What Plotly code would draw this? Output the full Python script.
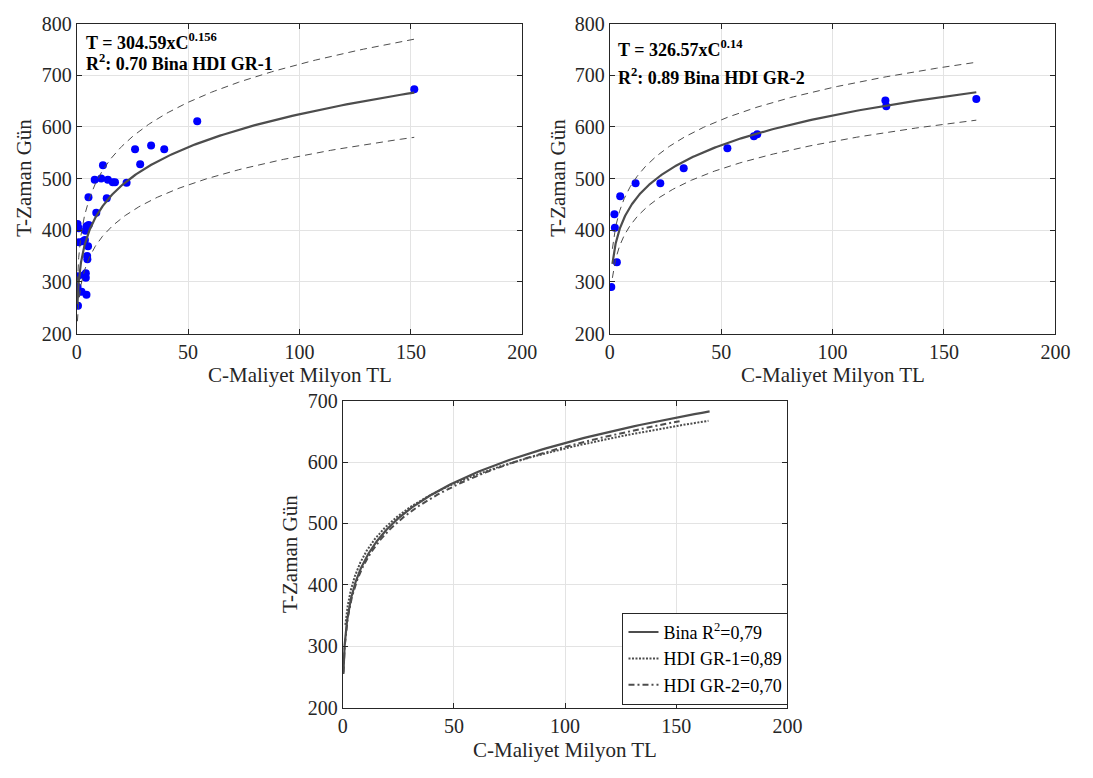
import numpy as np
import plotly.graph_objects as go

# ---------------- data ----------------
gr1_cost = [151.5, 54.1, 26.2, 33.4, 39.3, 28.5, 11.8, 8.1, 11.0, 14.0, 16.2, 17.2, 22.4,
            5.3, 13.5, 8.8, 0.4, 0.9, 4.4, 5.4, 4.0, 1.0, 2.9, 3.7, 5.1, 4.7, 4.8,
            0.4, 3.2, 4.1, 4.1, 0.4, 0.0, 2.2, 4.4, 0.6]
gr1_time = [673, 611, 557, 564, 557, 528, 526, 498, 500, 498, 493, 493, 492,
            464, 462, 434, 412, 404, 408, 410, 399, 377, 379, 381, 369, 350, 344,
            311, 313, 317, 308, 290, 277, 281, 275, 254]

gr2_cost = [164.5, 123.7, 124.1, 64.7, 66.2, 52.8, 33.2, 22.7, 11.6, 4.7, 2.1, 2.3, 3.2, 0.7]
gr2_time = [654, 651, 640, 582, 586, 559, 520, 491, 491, 466, 431, 405, 338, 290]

# fitted power laws T = a * C^b
gr1_a, gr1_b = 304.59, 0.156
gr2_a, gr2_b = 326.57, 0.14
bina_a, bina_b = 307.7, 0.156
gr1_band = (0.87, 1.155)
gr2_band = (0.919, 1.087)
gr1_range = (0.34, 151.5)
gr2_range = (1.2, 164.5)
bina_range = (0.3, 165.0)

x_ticks = [0, 50, 100, 150, 200]
y_ticks_top = [200, 300, 400, 500, 600, 700, 800]
y_ticks_bot = [200, 300, 400, 500, 600, 700]

x_title = "C-Maliyet Milyon TL"
y_title = "T-Zaman Gün"


def curve(a, b, rng, n=300):
    c = np.geomspace(rng[0], rng[1], n)
    return c, a * c ** b


W, H = 1093, 778
FONT = "Liberation Serif"
AX = "#262626"
FIT = "#4d4d4d"

fig = go.Figure()

# ---- top-left panel
c1, t1 = curve(gr1_a, gr1_b, gr1_range)
fig.add_trace(go.Scatter(x=gr1_cost, y=gr1_time, mode="markers",
                         marker=dict(color="#0000ff", size=8), xaxis="x", yaxis="y", showlegend=False))
fig.add_trace(go.Scatter(x=c1, y=t1, mode="lines", line=dict(color=FIT, width=2.2),
                         xaxis="x", yaxis="y", showlegend=False))
for f in gr1_band:
    fig.add_trace(go.Scatter(x=c1, y=t1 * f, mode="lines", line=dict(color=FIT, width=1, dash="7px,5px"),
                             xaxis="x", yaxis="y", showlegend=False))

# ---- top-right panel
c2, t2 = curve(gr2_a, gr2_b, gr2_range)
fig.add_trace(go.Scatter(x=gr2_cost, y=gr2_time, mode="markers",
                         marker=dict(color="#0000ff", size=8), xaxis="x2", yaxis="y2", showlegend=False))
fig.add_trace(go.Scatter(x=c2, y=t2, mode="lines", line=dict(color=FIT, width=2.2),
                         xaxis="x2", yaxis="y2", showlegend=False))
for f in gr2_band:
    fig.add_trace(go.Scatter(x=c2, y=t2 * f, mode="lines", line=dict(color=FIT, width=1, dash="7px,5px"),
                             xaxis="x2", yaxis="y2", showlegend=False))

# ---- bottom panel
cb, tb = curve(bina_a, bina_b, bina_range)
fig.add_trace(go.Scatter(x=cb, y=tb, mode="lines", name="Bina R<sup>2</sup>=0,79",
                         line=dict(color=FIT, width=2.2), xaxis="x3", yaxis="y3"))
fig.add_trace(go.Scatter(x=c2, y=t2, mode="lines", name="HDI GR-1=0,89",
                         line=dict(color=FIT, width=2, dash="2px,1.5px"), xaxis="x3", yaxis="y3"))
fig.add_trace(go.Scatter(x=c1, y=t1, mode="lines", name="HDI GR-2=0,70",
                         line=dict(color=FIT, width=2, dash="6px,3px,2px,3px"), xaxis="x3", yaxis="y3"))


def px_x(p):
    return p / W


def px_y(p):
    return 1 - p / H


def xaxis(dom, anchor):
    return dict(domain=dom, anchor=anchor, range=[0, 200], tickvals=x_ticks,
                showline=True, linecolor=AX, linewidth=1, mirror="ticks",
                ticks="inside", ticklen=5, tickcolor=AX,
                showgrid=True, gridcolor="#e3e3e3", gridwidth=1, zeroline=False,
                tickfont=dict(family=FONT, size=20, color=AX))


def yaxis(dom, anchor, rng, ticks):
    return dict(domain=dom, anchor=anchor, range=rng, tickvals=ticks,
                showline=True, linecolor=AX, linewidth=1, mirror="ticks",
                ticks="inside", ticklen=5, tickcolor=AX,
                showgrid=True, gridcolor="#e3e3e3", gridwidth=1, zeroline=False,
                tickfont=dict(family=FONT, size=20, color=AX))


tl_x = [px_x(73), px_x(527)]
tr_x = [px_x(616), px_x(1070)]
top_y = [px_y(332), px_y(13)]
b_x = [px_x(344), px_x(797)]
b_y = [px_y(717), px_y(401)]

annotations = []
# axis titles
for xc, yc in [((73 + 527) / 2, 375), ((616 + 1070) / 2, 375), ((344 + 797) / 2, 761)]:
    annotations.append(dict(x=px_x(xc), y=px_y(yc), xref="paper", yref="paper", text=x_title,
                            showarrow=False, xanchor="center", yanchor="middle",
                            font=dict(family=FONT, size=21, color=AX)))
for xc, yc in [(19, 172), (563, 172), (290, 559)]:
    annotations.append(dict(x=px_x(xc), y=px_y(yc), xref="paper", yref="paper", text=y_title,
                            showarrow=False, xanchor="center", yanchor="middle", textangle=-90,
                            font=dict(family=FONT, size=21, color=AX)))
# equation labels
eq = [(80, 31, "<b>T = 304.59xC<sup>0.156</sup></b>"),
      (80, 53, "<b>R<sup>2</sup>: 0.70 Bina HDI GR-1</b>"),
      (622, 39, "<b>T = 326.57xC<sup>0.14</sup></b>"),
      (622, 67, "<b>R<sup>2</sup>: 0.89 Bina HDI GR-2</b>")]
for xl, yc, txt in eq:
    annotations.append(dict(x=px_x(xl), y=px_y(yc), xref="paper", yref="paper", text=txt,
                            showarrow=False, xanchor="left", yanchor="middle",
                            font=dict(family=FONT, size=18, color="black")))

fig.update_layout(
    width=W, height=H,
    margin=dict(l=0, r=0, t=0, b=0),
    paper_bgcolor="white", plot_bgcolor="white",
    xaxis=xaxis(tl_x, "y"), yaxis=yaxis(top_y, "x", [200, 800], y_ticks_top),
    xaxis2=xaxis(tr_x, "y2"), yaxis2=yaxis(top_y, "x2", [200, 800], y_ticks_top),
    xaxis3=xaxis(b_x, "y3"), yaxis3=yaxis(b_y, "x3", [200, 700], y_ticks_bot),
    legend=dict(x=px_x(629), y=px_y(714), xanchor="left", yanchor="bottom",
                bordercolor=AX, borderwidth=1, bgcolor="white",
                font=dict(family=FONT, size=18, color="black"),
                itemwidth=30, tracegroupgap=0),
    annotations=annotations,
    showlegend=True,
)

fig.write_html("out.html")
